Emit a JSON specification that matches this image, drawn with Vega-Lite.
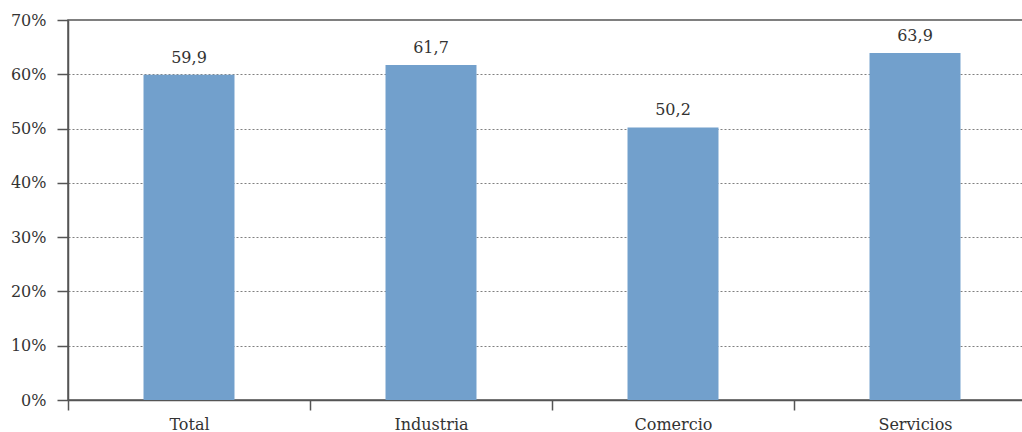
{
  "$schema": "https://vega.github.io/schema/vega-lite/v6.json",
  "autosize": {"type": "none"},
  "padding": {"left": 68, "top": 20, "right": 0, "bottom": 32},
  "width": 968,
  "height": 380,
  "config": {
    "locale": {"number": {"decimal": ",", "thousands": ".", "grouping": [3], "currency": ["", " €"]}},
    "font": "DejaVu Serif",
    "view": {"stroke": "#555555", "strokeWidth": 1.5},
    "axis": {"labelFont": "DejaVu Serif", "labelFontSize": 16, "labelColor": "#333333", "domainColor": "#555555", "tickColor": "#555555", "domainWidth": 1.5, "tickWidth": 1.5}
  },
  "data": {"values": [
    {"sector": "Total", "valor": 59.9},
    {"sector": "Industria", "valor": 61.7},
    {"sector": "Comercio", "valor": 50.2},
    {"sector": "Servicios", "valor": 63.9}
  ]},
  "encoding": {
    "x": {"field": "sector", "type": "nominal", "sort": null, "title": null,
      "scale": {"paddingInner": 0, "paddingOuter": 0},
      "axis": {"labelAngle": 0, "tickBand": "extent", "tickSize": 10, "labelPadding": 6, "grid": false}},
    "y": {"field": "valor", "type": "quantitative", "title": null,
      "scale": {"domain": [0, 70], "nice": false},
      "axis": {"values": [0,10,20,30,40,50,60,70], "labelExpr": "datum.value + '%'", "tickSize": 11, "labelPadding": 11,
        "grid": true, "gridColor": "#808080", "gridDash": [2, 2], "gridWidth": 1}}
  },
  "layer": [
    {"mark": {"type": "bar", "color": "#72A0CC", "width": {"band": 0.376}}},
    {"mark": {"type": "text", "baseline": "bottom", "dy": -9, "fontSize": 16, "color": "#333333", "font": "DejaVu Serif"},
      "encoding": {"text": {"field": "valor", "type": "quantitative", "format": ".1f"}}}
  ]
}
